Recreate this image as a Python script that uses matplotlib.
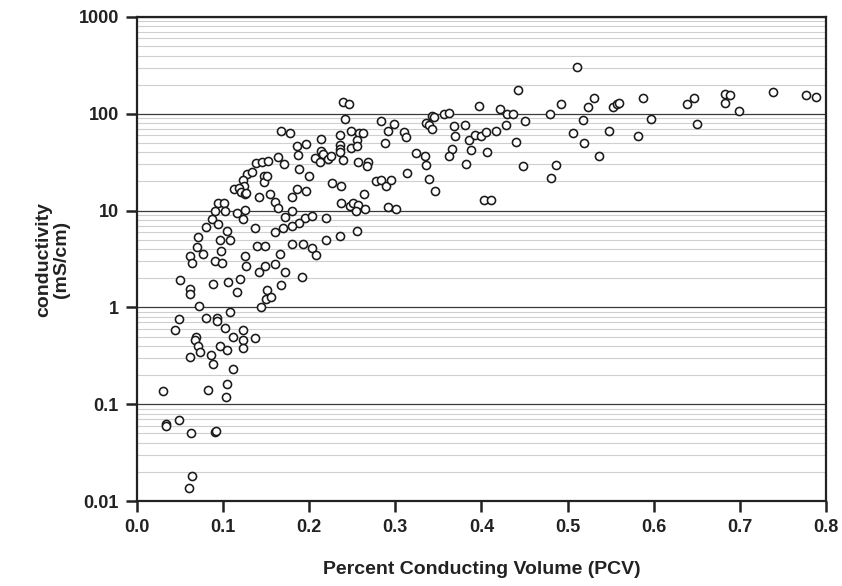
import matplotlib
matplotlib.use("Agg")
import matplotlib.pyplot as plt
from matplotlib.ticker import FixedLocator, FixedFormatter, LogLocator, NullFormatter

plt.rcParams["font.family"] = ["Liberation Sans", "DejaVu Sans"]
plt.rcParams["font.weight"] = "bold"

# percent conducting volume vs. conductivity (mS/cm), one entry per sample
pcv = [
    # lowest conductivities
    0.030, 0.083, 0.105, 0.103, 0.034, 0.034, 0.049, 0.063, 0.090, 0.092, 0.064, 0.060,
    # 0.2 - 5 mS/cm, low PCV
    0.096, 0.108, 0.070, 0.077, 0.098, 0.062, 0.064, 0.090, 0.099, 0.125, 0.127, 0.139,
    0.149, 0.142, 0.149, 0.050, 0.062, 0.062, 0.088, 0.106, 0.120, 0.116, 0.151, 0.150,
    0.072, 0.108, 0.144, 0.049, 0.044, 0.080, 0.093, 0.093, 0.102, 0.123, 0.112, 0.123,
    0.123, 0.137, 0.069, 0.067, 0.071, 0.073, 0.096, 0.105, 0.061, 0.086, 0.088, 0.111,
    # 5 - 35 mS/cm, low PCV
    0.138, 0.145, 0.152, 0.128, 0.134, 0.123, 0.124, 0.113, 0.118, 0.121, 0.125, 0.127,
    0.142, 0.147, 0.148, 0.155, 0.094, 0.101, 0.091, 0.102, 0.116, 0.125, 0.123, 0.087,
    0.094, 0.080, 0.105, 0.137, 0.071,
    # mid PCV
    0.239, 0.246, 0.241, 0.283, 0.298, 0.292, 0.288, 0.167, 0.178, 0.214, 0.236, 0.248,
    0.258, 0.262, 0.256, 0.236, 0.236, 0.248, 0.256, 0.186, 0.196, 0.187, 0.214, 0.216,
    0.207, 0.212, 0.222, 0.225, 0.236, 0.239, 0.257, 0.268, 0.267, 0.164, 0.171, 0.151,
    0.188, 0.200, 0.226, 0.237, 0.278, 0.283, 0.289, 0.295, 0.263, 0.186, 0.196, 0.180,
    0.160, 0.164, 0.180, 0.172, 0.237, 0.247, 0.251, 0.257, 0.254, 0.265, 0.291, 0.301,
    0.195, 0.203, 0.219, 0.188, 0.180, 0.169, 0.160, 0.236, 0.219, 0.255, 0.180, 0.193,
    0.203, 0.208, 0.166, 0.160, 0.172, 0.192, 0.167, 0.156,
    # 0.3 - 0.5 PCV
    0.442, 0.397, 0.422, 0.430, 0.437, 0.451, 0.429, 0.356, 0.362, 0.343, 0.345, 0.336,
    0.339, 0.343, 0.310, 0.312, 0.368, 0.369, 0.381, 0.386, 0.392, 0.399, 0.405, 0.417,
    0.440, 0.366, 0.362, 0.388, 0.406, 0.382, 0.448, 0.324, 0.334, 0.336, 0.339, 0.346,
    0.314, 0.403, 0.411, 0.486, 0.481,
    # high PCV
    0.511, 0.479, 0.492, 0.506, 0.519, 0.518, 0.524, 0.531, 0.537, 0.548, 0.553, 0.557,
    0.560, 0.582, 0.587, 0.597, 0.639, 0.647, 0.650, 0.683, 0.689, 0.683, 0.699, 0.739,
    0.777, 0.788,
]

conductivity = [
    0.136, 0.139, 0.16, 0.118, 0.063, 0.059, 0.068, 0.050, 0.052, 0.053, 0.018, 0.0135,
    5.0, 5.0, 4.2, 3.6, 3.8, 3.4, 2.9, 3.0, 2.9, 3.4, 2.65, 4.3,
    4.3, 2.3, 2.65, 1.9, 1.56, 1.36, 1.76, 1.82, 1.95, 1.44, 1.5, 1.23,
    1.03, 0.89, 1.0, 0.76, 0.58, 0.78, 0.78, 0.72, 0.61, 0.59, 0.50, 0.456,
    0.38, 0.48, 0.49, 0.46, 0.40, 0.35, 0.40, 0.36, 0.31, 0.32, 0.26, 0.23,
    31, 31.5, 32.5, 24, 25, 20.5, 18, 16.8, 17, 15.5, 15, 15.2,
    13.8, 22.6, 19.9, 15, 12, 12, 10, 10, 9.4, 10.2, 8.1, 8.1,
    7.3, 6.7, 6.2, 6.6, 5.4,
    132, 125, 87.5, 84, 79, 66, 50, 66, 64, 55, 60, 66,
    64, 64, 54, 48, 43.6, 44.6, 47, 46.8, 49, 37.8, 41, 38.7,
    35, 32, 34, 36.6, 40, 33, 31.7, 31.7, 28.6, 35.7, 30.5, 23,
    27, 23, 19.2, 17.8, 20, 20.5, 17.8, 20.9, 15, 16.8, 15.9, 13.8,
    12.2, 10.7, 10, 8.6, 12, 11.2, 12, 11.3, 9.9, 10.5, 11, 10.5,
    8.4, 8.9, 8.4, 7.4, 6.9, 6.6, 6.0, 5.5, 5.0, 6.2, 4.5, 4.55,
    4.1, 3.5, 3.6, 2.8, 2.3, 2.06, 1.69, 1.28,
    175, 120, 111, 100, 100, 84, 76, 100, 103, 95, 92.5, 81,
    76, 70, 65, 57.5, 74, 59, 76, 54, 60, 58.4, 65, 66,
    51, 43.6, 37, 41.9, 40, 30, 28.6, 39.6, 36.3, 29.3, 21, 15.8,
    24.4, 13, 13, 29.3, 21.7,
    303, 98.6, 127, 63, 50, 85.5, 117, 147, 36.3, 66, 117, 127,
    129, 59, 147, 88, 127, 145, 78, 160, 155, 129, 106, 166,
    157, 149,
]

x_ticks = [0.0, 0.1, 0.2, 0.3, 0.4, 0.5, 0.6, 0.7, 0.8]
y_ticks = [0.01, 0.1, 1, 10, 100, 1000]
y_tick_labels = ["0.01", "0.1", "1", "10", "100", "1000"]

fig = plt.figure(figsize=(8.42, 5.86), dpi=100)
ax = fig.add_axes([0.1627, 0.145, 0.8183, 0.826])

ax.set_yscale("log")
ax.set_xlim(0, 0.8)
ax.set_ylim(0.01, 1000)

# light minor lines inside each decade, dark lines at the decades
ax.yaxis.set_minor_locator(LogLocator(base=10, subs=range(2, 10), numticks=20))
ax.yaxis.set_minor_formatter(NullFormatter())
ax.grid(True, which="minor", axis="y", color="#cfcfcf", linewidth=0.8, zorder=0)
ax.grid(True, which="major", axis="y", color="#3a3a3a", linewidth=0.9, zorder=0)
ax.tick_params(axis="y", which="minor", length=0)

ax.scatter(pcv, conductivity, s=34, facecolors="white", edgecolors="#1a1a1a",
           linewidths=1.15, zorder=3, clip_on=False)

ax.xaxis.set_major_locator(FixedLocator(x_ticks))
ax.set_xticklabels([f"{t:.1f}" for t in x_ticks])
ax.yaxis.set_major_locator(FixedLocator(y_ticks))
ax.yaxis.set_major_formatter(FixedFormatter(y_tick_labels))

ax.tick_params(axis="both", which="major", direction="out", length=8, width=1.8,
               color="#222222", labelsize=13, labelcolor="#222222", pad=5)
for lbl in ax.get_xticklabels() + ax.get_yticklabels():
    lbl.set_fontweight("bold")

for side in ["left", "bottom", "right", "top"]:
    ax.spines[side].set_linewidth(1.6)
    ax.spines[side].set_color("#222222")

ax.set_xlabel("Percent Conducting Volume (PCV)", fontsize=14, fontweight="bold",
              color="#222222", labelpad=18)
ax.set_ylabel("conductivity\n(mS/cm)", fontsize=14, fontweight="bold",
              color="#222222", labelpad=6, linespacing=1.1)

fig.savefig("out.png", dpi=100)
